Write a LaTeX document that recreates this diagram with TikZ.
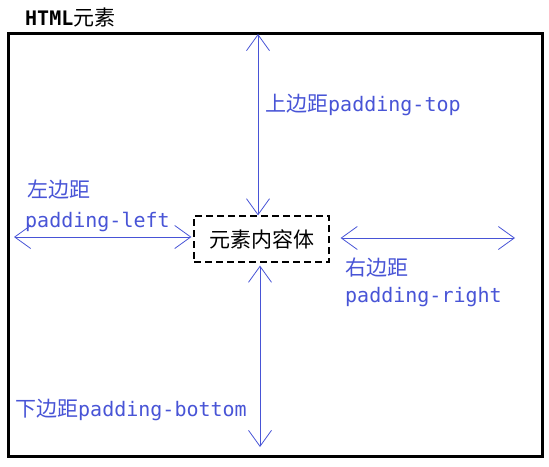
\documentclass[tikz,border=0pt]{standalone}
\usepackage{fontspec}
\setmonofont{DejaVu Sans Mono}
\newfontfamily\cjk{Noto Sans CJK SC}
\usetikzlibrary{arrows.meta}
\definecolor{padblue}{RGB}{72,84,214}
\newcommand{\zh}[1]{{\cjk\mdseries\fontsize{21}{21}\selectfont #1}}
\tikzset{
  padarrow/.style={draw=padblue, line width=0.8pt,
    {Straight Barb[length=16pt,width=23pt]}-{Straight Barb[length=16pt,width=23pt]}},
  padlabel/.style={text=padblue, anchor=west, inner sep=0pt,
    font=\ttfamily\fontsize{20}{20}\selectfont},
}
\begin{document}
\begin{tikzpicture}[x=1pt,y=-1pt]
                \useasboundingbox (0,0) rectangle (549,466);
                \def\tx{258}
                \def\bx{260}
                \def\ly{237}
                \def\ry{238}

                % HTML element box
                \node[draw, line width=3pt, minimum width=534pt, minimum height=423pt,
                      inner sep=0pt, anchor=north west] (html) at (7,32) {};
                \node[anchor=west, inner sep=0pt, font=\ttfamily\bfseries\fontsize{20}{20}\selectfont]
                      (title) at (25,17) {HTML\zh{元素}};

                % content box
                \node[draw, dash pattern=on 7pt off 4pt, line width=1.2pt,
                      minimum width=135pt, minimum height=46pt, inner sep=0pt]
                      (content) at (261.5,239) {\zh{元素内容体}};

                % arrow ends
                \coordinate (topend) at (\tx,34);
                \coordinate (botend) at (\bx,447);
                \coordinate (leftend) at (14,\ly);
                \coordinate (rightend) at (515,\ry);

                % padding arrows
                \draw[padarrow] (content.north -| topend) -- (topend);
                \draw[padarrow] ([yshift=-3pt]content.south -| botend) -- (botend);
                \draw[padarrow] ([xshift=-2pt]content.west |- leftend) -- (leftend);
                \draw[padarrow] ([xshift=11pt]content.east |- rightend) -- (rightend);

                % labels
                \node[padlabel] (toplabel) at (265,105) {\zh{上边距}padding-top};
                \node[padlabel] (leftzh) at (27,190) {\zh{左边距}};
                \node[padlabel] (leftlabel) at (25,222) {padding-left};
                \node[padlabel] (rightzh) at (345,268) {\zh{右边距}};
                \node[padlabel] (rightlabel) at (345,297) {padding-right};
                \node[padlabel] (botlabel) at (15,410) {\zh{下边距}padding-bottom};
\end{tikzpicture}
\end{document}
